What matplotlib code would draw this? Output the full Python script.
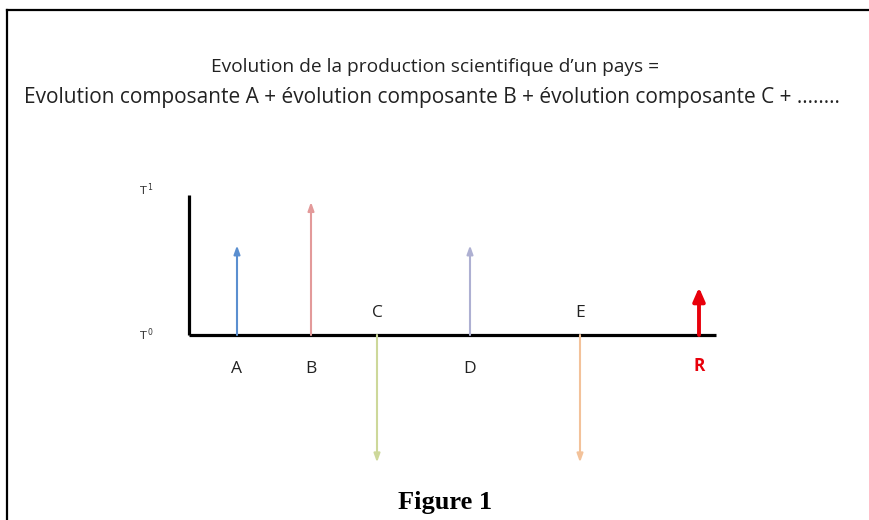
import matplotlib
matplotlib.use('Agg')
import matplotlib.pyplot as plt
from matplotlib.lines import Line2D

# components and their evolution between T0 and T1 (T1 = 1)
labels = ['A', 'B', 'C', 'D', 'E', 'R']
values = [0.64, 0.95, -0.91, 0.64, -0.91, 0.34]
colors = ['#5b8fd0', '#e39a9a', '#cdd89a', '#aeb0d2', '#f3c29a', '#e8000b']

# layout (pixel columns of the arrows)
xpos = [237, 311, 377, 470, 580, 699]
label_below = [True, True, False, True, False, True]

W, H = 870, 520
base_px, unit_px = 335, 140

fig = plt.figure(figsize=(W / 100, H / 100), dpi=100)
ax = fig.add_axes([0, 0, 1, 1])
ax.set_xlim(0, W)
ax.set_ylim((base_px - H) / unit_px, base_px / unit_px)
ax.axis('off')

# frame (left and top only, the rest is cropped)
fig.add_artist(Line2D([7.5 / W, 7.5 / W], [0, 1 - 10 / H], color='black', lw=1.6))
fig.add_artist(Line2D([7.5 / W, 1], [1 - 10 / H, 1 - 10 / H], color='black', lw=1.6))

# axes lines
ax.plot([189, 189], [0, 1], color='black', lw=2.3, solid_capstyle='butt')
ax.plot([189, 716], [0, 0], color='black', lw=2.3, solid_capstyle='butt')
ax.text(146, 1.04, 'T$^{\\,1}$', fontsize=8, ha='center', va='center', color='#333333')
ax.text(146, 0.0, 'T$^{\\,0}$', fontsize=8, ha='center', va='center', color='#333333')

for lab, v, c, x, below in zip(labels, values, colors, xpos, label_below):
    if lab == 'R':
        ax.annotate('', xy=(x, v), xytext=(x, 0),
                    arrowprops=dict(arrowstyle='-|>,head_width=0.35,head_length=0.8',
                                    color=c, lw=2.8, shrinkA=0, shrinkB=0))
        ax.text(x, -0.22, lab, color=c, fontsize=12.5, fontweight='bold',
                ha='center', va='center', family='Open Sans')
    else:
        ax.annotate('', xy=(x, v), xytext=(x, 0),
                    arrowprops=dict(arrowstyle='-|>,head_width=0.18,head_length=0.5',
                                    color=c, lw=1.5, shrinkA=0, shrinkB=0))
        ty = -0.24 if below else 0.16
        ax.text(x, ty, lab, color='#222222', fontsize=12.5, ha='center', va='center',
                family='Open Sans')

ax.text(435, (base_px - 67) / unit_px, "Evolution de la production scientifique d\u2019un pays =",
        fontsize=13.8, ha='center', va='center', family='Open Sans', color='#222222')
ax.text(432, (base_px - 98) / unit_px,
        "Evolution composante A + \u00e9volution composante B + \u00e9volution composante C + ........",
        fontsize=15, ha='center', va='center', family='Open Sans', color='#222222')

ax.text(445, (base_px - 502) / unit_px, 'Figure 1', fontsize=19, fontweight='bold',
        ha='center', va='center', family='Liberation Serif', color='black')

fig.savefig('out.png', dpi=100)
